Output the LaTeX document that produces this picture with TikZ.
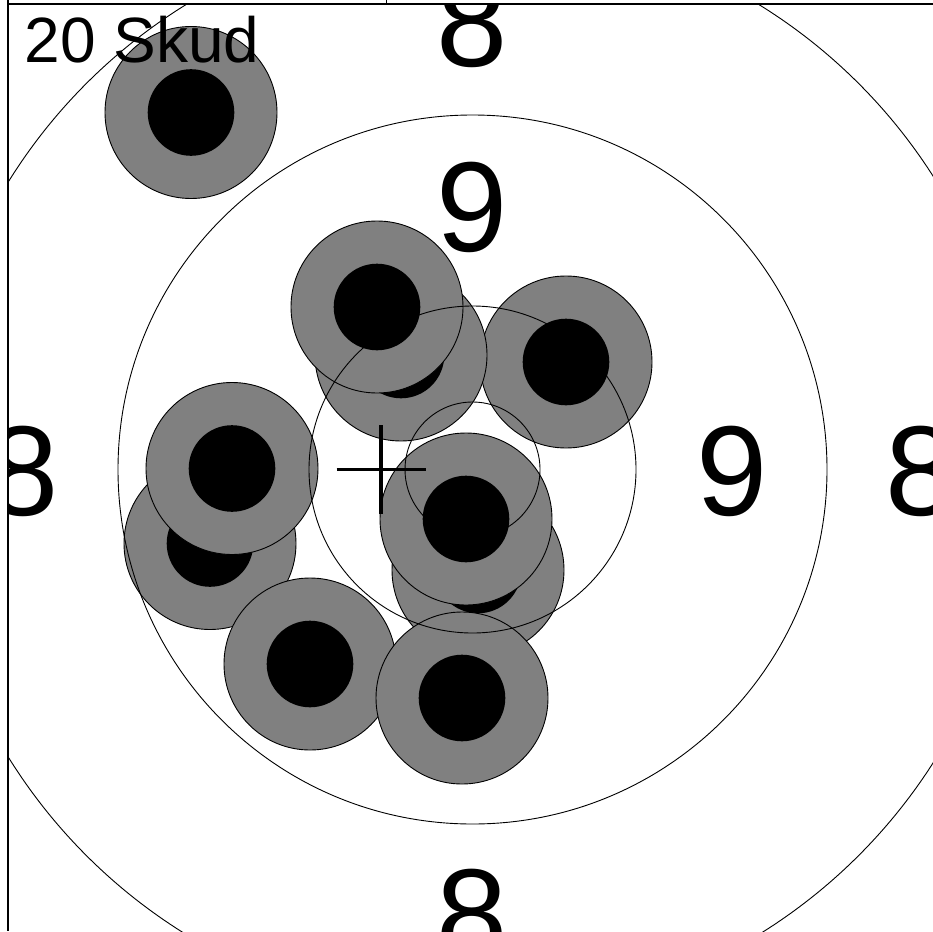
\documentclass[tikz,border=0pt]{standalone}
\usepackage{fontspec}
\setmainfont{Liberation Sans}
\definecolor{shotgray}{RGB}{128,128,128}
\tikzset{
  ring/.style={draw=black, line width=0.9pt},
  frame/.style={draw=black, line width=1.3pt},
  outerdisc/.style={fill=shotgray, draw=black, line width=0.9pt},
  innerdisc/.style={fill=black},
  num/.style={inner sep=0pt, font=\fontsize{128}{128}\selectfont},
  title/.style={inner sep=0pt, anchor=base west, font=\fontsize{64}{64}\selectfont},
  crossline/.style={draw=black, line width=3.3pt}
}
\newcommand{\shot}[2]{%
  \filldraw[outerdisc] (#1,#2) circle (86pt);
  \fill[innerdisc] (#1,#2) circle (43.3pt);
}
\begin{document}
\begin{tikzpicture}[x=1pt,y=-1pt]
\useasboundingbox (0,0) rectangle (933,931);
\fill[white] (0,0) rectangle (933,931);
\begin{scope}
\clip (8,4) rectangle (933,931);
% shots
\shot{191}{112.5}
\shot{566}{362}
\shot{401}{355}
\shot{377}{307}
\shot{210}{543.5}
\shot{232}{468.5}
\shot{310}{664}
\shot{478}{570}
\shot{466}{519}
\shot{462}{698}
% rings
\coordinate (c) at (472.5,469.5);
\draw[ring] (c) circle (67.5pt);
\draw[ring] (c) circle (163.5pt);
\draw[ring] (c) circle (354.5pt);
\draw[ring] (c) circle (546pt);
% mean point cross
\coordinate (m) at (381,469.5);
\coordinate (mW) at (336.5,469.5);
\coordinate (mE) at (425.5,469.5);
\coordinate (mN) at (381,425);
\coordinate (mS) at (381,514);
\draw[crossline] (mW) -- (mE);
\draw[crossline] (mN) -- (mS);
% ring numbers
\node[num] (n8t) at (472.5,22.5) {8};
\node[num] (n9t) at (472.5,207) {9};
\node[num] (n9r) at (732,471) {9};
\node[num] (n8r) at (921.5,471) {8};
\node[num] (n8l) at (23.5,471) {8};
\node[num] (n8b) at (472.5,914.5) {8};
% title
\node[title] (title) at (24.5,63) {20 Skud};
\end{scope}
% frame
\coordinate (fTL) at (8,4);
\coordinate (fTR) at (933,4);
\coordinate (fL0) at (8,0);
\coordinate (fLB) at (8,931);
\coordinate (tk0) at (386.5,0);
\coordinate (tk1) at (386.5,4);
\draw[frame] (fTL) -- (fTR);
\draw[frame] (fL0) -- (fLB);
\draw[frame] (tk0) -- (tk1);
\end{tikzpicture}
\end{document}
